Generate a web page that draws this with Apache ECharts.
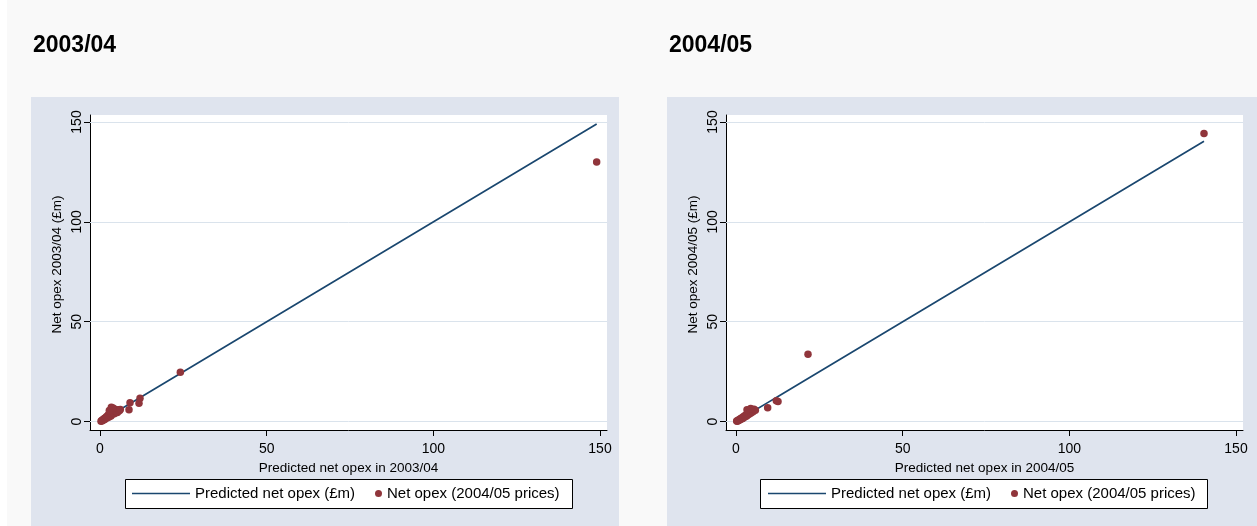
<!DOCTYPE html>
<html>
<head>
<meta charset="utf-8">
<script src="https://cdn.jsdelivr.net/npm/echarts@6/dist/echarts.min.js"></script>
<style>
    html, body { margin: 0; padding: 0; background: #f9f9f9; }
    #chart { width: 1257px; height: 526px; }
</style>
</head>
<body>
<div id="chart"></div>
<script>
// panel labels
const panelTitles = ['2003/04', '2004/05'];
const xAxisNames = ['Predicted net opex in 2003/04', 'Predicted net opex in 2004/05'];
const yAxisNames = ['Net opex 2003/04 (£m)', 'Net opex 2004/05 (£m)'];
const tickValues = [0, 50, 100, 150];
const lineName = 'Predicted net opex (£m)';
const pointName = 'Net opex (2004/05 prices)';

// 2003/04: predicted vs actual (£m)
const predicted0304 = [0.3, 0.5, 0.7, 0.9, 1.0, 1.2, 1.4, 1.5, 1.7, 1.9, 2.0, 2.2, 2.4, 2.5, 2.7, 2.9, 3.0, 3.2, 3.3, 3.5,
    3.6, 3.8, 4.0, 4.1, 4.3, 4.5, 4.7, 5.0, 5.2, 5.5, 5.8, 6.1, 3.4, 3.9, 2.8, 9.0, 8.7, 12.0, 11.7, 24.1, 149.0];
const actual0304 = [0.2, 0.6, 0.4, 1.1, 0.8, 1.4, 1.0, 1.8, 1.5, 2.2, 2.6, 1.9, 2.9, 3.4, 2.3, 3.8, 3.1, 4.2, 2.8, 4.6,
    3.7, 5.0, 4.3, 5.6, 3.9, 6.2, 4.8, 5.2, 4.6, 5.9, 5.4, 6.1, 7.2, 6.8, 5.5, 9.5, 5.9, 11.7, 9.2, 24.7, 130.0];

// 2004/05: predicted vs actual (£m)
const predicted0405 = [0.2, 0.4, 0.6, 0.8, 1.0, 1.2, 1.4, 1.6, 1.8, 2.0, 2.2, 2.4, 2.6, 2.8, 3.0, 3.2, 3.4, 3.6, 3.8, 4.0,
    4.2, 4.5, 4.8, 5.1, 5.4, 5.8, 3.3, 4.4, 9.5, 12.1, 12.6, 21.6, 140.4];
const actual0405 = [0.3, 0.2, 0.7, 0.6, 1.1, 0.9, 1.5, 1.3, 1.9, 1.6, 2.4, 2.0, 2.9, 2.5, 3.3, 2.8, 3.9, 3.4, 4.4, 3.8,
    5.0, 4.3, 5.6, 4.9, 6.2, 5.7, 6.0, 6.6, 7.0, 10.4, 10.1, 33.7, 144.2];

const FONT = 'Liberation Sans, Arial, sans-serif';
const NAVY = '#1a476f';
const MAROON = '#90353b';
const GRIDLINE = '#dae3ec';
const PANEL_BG = '#dfe4ee';

const chart = echarts.init(document.getElementById('chart'));

const panels = [
    {pred: predicted0304, act: actual0304, dx: 0},
    {pred: predicted0405, act: actual0405, dx: 636}
];

const grid = [], xAxis = [], yAxis = [], series = [], title = [], legend = [];

panels.forEach((p, i) => {
    const dx = p.dx;
    grid.push({
        left: 90 + dx, top: 115, width: 517, height: 315,
        show: true, backgroundColor: '#fff', borderWidth: 0
    });
    xAxis.push({
        type: 'value', gridIndex: i, min: -3, max: 152.1,
        name: xAxisNames[i], nameLocation: 'middle', nameGap: 23,
        nameTextStyle: {color: '#000', fontSize: 13.5, fontFamily: FONT},
        axisLine: {show: true, onZero: false, lineStyle: {color: '#000', width: 1}},
        axisTick: {show: true, customValues: tickValues, length: 6, lineStyle: {color: '#000'}},
        axisLabel: {customValues: tickValues, margin: 12, color: '#000', fontSize: 14, fontFamily: FONT},
        splitLine: {show: false}
    });
    yAxis.push({
        type: 'value', gridIndex: i, min: -4.2, max: 153.5,
        name: yAxisNames[i], nameLocation: 'middle', nameGap: 26, nameRotate: 90,
        nameTextStyle: {color: '#000', fontSize: 13.5, fontFamily: FONT, padding: [0, 0, 0, 16]},
        axisLine: {show: true, onZero: false, lineStyle: {color: '#000', width: 1}},
        axisTick: {show: true, customValues: tickValues, length: 6, lineStyle: {color: '#000'}},
        axisLabel: {customValues: tickValues, rotate: 90, margin: 6, color: '#000', fontSize: 14, fontFamily: FONT},
        splitLine: {show: false}
    });

    const sorted = p.pred.slice().sort((a, b) => a - b);
    series.push({
        name: lineName, type: 'line', xAxisIndex: i, yAxisIndex: i,
        data: sorted.map(v => [v, v]),
        symbol: 'none', z: 3,
        lineStyle: {color: NAVY, width: 1.7},
        itemStyle: {color: NAVY},
        markLine: {
            silent: true, symbol: 'none', z: 1, animation: false,
            label: {show: false},
            lineStyle: {color: GRIDLINE, width: 1, type: 'solid'},
            data: tickValues.map(v => ({yAxis: v}))
        }
    });
    series.push({
        name: pointName, type: 'scatter', xAxisIndex: i, yAxisIndex: i,
        data: p.pred.map((v, k) => [v, p.act[k]]),
        symbolSize: 7.5, z: 5,
        itemStyle: {color: MAROON, opacity: 1}
    });

    title.push({
        text: panelTitles[i], left: 33 + dx, top: 34, padding: 0,
        textStyle: {fontSize: 23, fontWeight: 'bold', color: '#000', fontFamily: FONT}
    });
    legend.push({
        data: [{name: lineName, icon: 'rect'}], left: 132 + dx, top: 486, padding: 0,
        itemWidth: 58, itemHeight: 1.4, selectedMode: false,
        itemStyle: {color: NAVY, borderWidth: 0},
        textStyle: {fontSize: 15, color: '#000', fontFamily: FONT}
    });
    legend.push({
        data: [pointName], left: 375 + dx, top: 486, padding: 0,
        itemWidth: 7, itemHeight: 7, selectedMode: false,
        textStyle: {fontSize: 15, color: '#000', fontFamily: FONT}
    });
});

const option = {
    animation: false,
    title: title,
    legend: legend,
    grid: grid,
    xAxis: xAxis,
    yAxis: yAxis,
    series: series,
    graphic: [
        {type: 'rect', z: -20, shape: {x: 0, y: 0, width: 7, height: 526}, style: {fill: '#fff'}},
        {type: 'rect', z: -10, shape: {x: 31, y: 97, width: 588, height: 429}, style: {fill: PANEL_BG}},
        {type: 'rect', z: -10, shape: {x: 667, y: 97, width: 590, height: 429}, style: {fill: PANEL_BG}},
        {type: 'rect', z: 1, shape: {x: 125.5, y: 479.5, width: 447, height: 29}, style: {fill: '#fff', stroke: '#000', lineWidth: 1}},
        {type: 'rect', z: 1, shape: {x: 760.5, y: 479.5, width: 447, height: 29}, style: {fill: '#fff', stroke: '#000', lineWidth: 1}}
    ]
};

chart.setOption(option);
</script>
</body>
</html>
